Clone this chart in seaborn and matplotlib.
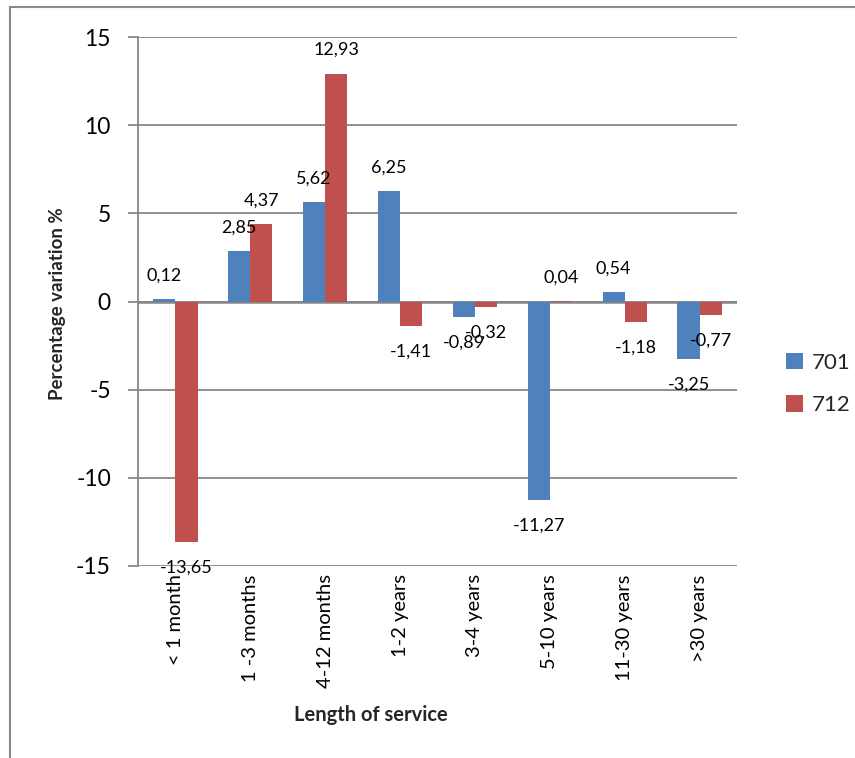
import matplotlib
matplotlib.use("Agg")
import matplotlib.pyplot as plt
from matplotlib.patches import Rectangle
import seaborn as sns
import pandas as pd

categories = ["< 1 month", "1 -3 months", "4-12 months", "1-2 years",
              "3-4 years", "5-10 years", "11-30 years", ">30 years"]
series_names = ["701", "712"]
values_701 = [0.12, 2.85, 5.62, 6.25, -0.89, -11.27, 0.54, -3.25]
values_712 = [-13.65, 4.37, 12.93, -1.41, -0.32, 0.04, -1.18, -0.77]
colors = ["#4F81BD", "#C0504D"]
y_ticks = [-15, -10, -5, 0, 5, 10, 15]

df = pd.DataFrame({
    "category": categories * 2,
    "series": [series_names[0]] * len(categories) + [series_names[1]] * len(categories),
    "value": values_701 + values_712,
})

sns.set_theme(style="white")
plt.rcParams["font.family"] = ["Lato", "DejaVu Sans"]

W, H = 855, 758
fig = plt.figure(figsize=(W / 100, H / 100), dpi=100)
ax = fig.add_axes([138 / W, 1 - 566 / H, (737 - 138) / W, (566 - 37) / H])

sns.barplot(data=df, x="category", y="value", hue="series", order=categories,
            hue_order=series_names, palette=colors, width=0.59, gap=0,
            saturation=1, ax=ax, legend=True, zorder=3, linewidth=0)

grid_c = "#878787"
ax.set_ylim(-15, 15)
ax.set_yticks(y_ticks)
ax.set_yticklabels([str(t) for t in y_ticks], fontsize=16.5)
ax.yaxis.grid(True, color=grid_c, linewidth=1.3, zorder=1)
ax.xaxis.grid(False)
for s in ["top", "right", "bottom"]:
    ax.spines[s].set_visible(False)
ax.spines["left"].set_color(grid_c)
ax.spines["left"].set_linewidth(1.3)
ax.tick_params(axis="y", direction="out", length=7.5, width=1.3, color=grid_c,
               left=True, pad=12, labelcolor="black")
ax.tick_params(axis="x", length=0, pad=6, labelsize=14.5, labelcolor="black")
ax.set_xticks(range(len(categories)))
ax.set_xticklabels(categories, rotation=90, va="top", ha="center")
ax.set_xlim(-0.5, len(categories) - 0.5)
ax.set_xlabel("")
ax.set_ylabel("")
ax.axhline(0, color=grid_c, linewidth=1.8, zorder=2)

# value labels outside the end of each bar
for cont in ax.containers:
    for patch in cont.patches:
        h = patch.get_height()
        xc = patch.get_x() + patch.get_width() / 2
        off = 17 if h >= 0 else -18.5
        ax.annotate(f"{h:.2f}".replace(".", ","), (xc, h), xytext=(0, off),
                    textcoords="offset points", ha="center", va="center",
                    fontsize=13, color="black", zorder=5)

handles, labels = ax.get_legend_handles_labels()
ax.legend(handles, labels, loc="center left", bbox_to_anchor=(777 / W, 1 - 384 / H),
          bbox_transform=fig.transFigure, frameon=False, fontsize=16,
          handlelength=0.75, handleheight=0.75, handletextpad=0.4,
          labelspacing=1.0, borderaxespad=0)

fig.text(371 / W, 1 - 715 / H, "Length of service", ha="center", va="center",
         fontsize=14.5, fontweight="bold")
fig.text(57 / W, 1 - 304 / H, "Percentage variation %", ha="center", va="center",
         rotation=90, fontsize=13.5, fontweight="bold")

# outer chart frame
fig.patches.append(Rectangle((10 / W, -0.05), 1.1, 1 - 7 / H + 0.05,
                             transform=fig.transFigure, fill=False,
                             edgecolor="#8a8a8a", linewidth=1.5))

fig.savefig("out.png", dpi=100)
